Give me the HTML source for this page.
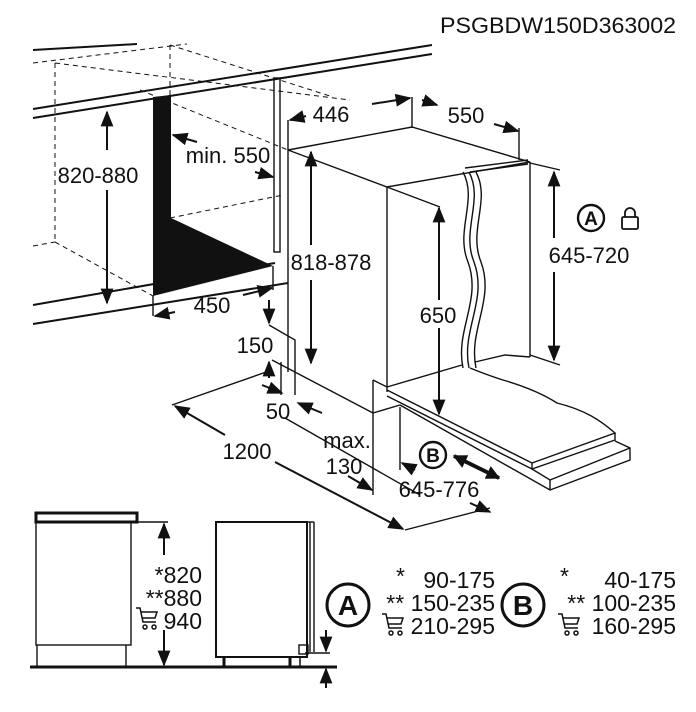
<!DOCTYPE html>
<html><head><meta charset="utf-8"><style>
html,body{margin:0;padding:0;background:#fff}
svg{display:block}
text{font-family:"Liberation Sans",sans-serif;fill:#111}
</style></head><body>
<svg width="696" height="712" viewBox="0 0 696 712" xmlns="http://www.w3.org/2000/svg">
<defs>
<marker id="a" viewBox="0 0 10 10" refX="9" refY="5" markerWidth="8" markerHeight="8" orient="auto-start-reverse"><path d="M0,1 L10,5 L0,9 z" fill="#111"/></marker>
<marker id="b" viewBox="0 0 10 10" refX="9" refY="5" markerWidth="14" markerHeight="14" markerUnits="userSpaceOnUse" orient="auto-start-reverse"><path d="M0,0 L10,5 L0,10 z" fill="#111"/></marker>
</defs>
<text x="676" y="33" font-size="22" text-anchor="end" textLength="236" lengthAdjust="spacingAndGlyphs">PSGBDW150D363002</text>
<g stroke="#111" fill="none" stroke-width="2">
<line x1="33" y1="50" x2="137" y2="44"/>
<line x1="33" y1="109" x2="432" y2="45"/>
<line x1="33" y1="118" x2="432" y2="54"/>
<line x1="33" y1="305" x2="275" y2="263"/>
<line x1="33" y1="324" x2="288" y2="283"/>
</g>
<g stroke="#111" fill="none" stroke-width="1" stroke-dasharray="5,4">
<line x1="33" y1="63" x2="187" y2="44"/>
<line x1="55" y1="63" x2="55" y2="243"/>
<line x1="170" y1="45" x2="170" y2="218"/>
<line x1="55" y1="63" x2="350" y2="100"/>
<line x1="170" y1="45" x2="333" y2="97"/>
<line x1="140" y1="90" x2="288" y2="150"/>
<line x1="170" y1="218" x2="283" y2="195"/>
<line x1="33" y1="246" x2="55" y2="242"/>
<line x1="55" y1="242" x2="153" y2="296"/>
</g>
<polygon points="153,97 171,95 171,218 273,266 153,296" fill="#111"/>
<g stroke="#111" fill="none" stroke-width="1.4">
<rect x="274" y="78" width="6" height="174"/>
<line x1="153" y1="296" x2="153" y2="316"/>
<line x1="273" y1="266" x2="273" y2="290"/>
<polyline points="288,150 412,127 530,162 387,187 288,150"/>
<line x1="288" y1="120" x2="288" y2="372"/>
<line x1="412" y1="97" x2="412" y2="128"/>
<line x1="519" y1="128" x2="519" y2="160"/>
<line x1="387" y1="187" x2="387" y2="392"/>
<line x1="530" y1="162" x2="530" y2="357"/>
<line x1="387" y1="187" x2="440" y2="207"/>
<line x1="530" y1="163" x2="560" y2="170"/>
<line x1="530" y1="355" x2="560" y2="365"/>
<polyline points="387,387 462,365"/>
<polyline points="475,362 505,355 530,357"/>
<line x1="465" y1="168" x2="528" y2="160"/>
<line x1="470" y1="172" x2="528" y2="164"/>
<path d="M463,172 C478,200 455,230 468,262 C482,300 455,330 463,368"/>
<path d="M469,172 C484,200 461,230 474,262 C488,300 461,330 469,368"/>
<path d="M476,172 C491,200 468,230 481,262 C495,300 468,330 476,368"/>
<path d="M387,390 L532,463 L615,433 C600,420 585,410 557,403 C540,392 520,385 503,380 C490,376 480,372 470,368"/>
<polyline points="387,396 532,469 615,440 615,433"/>
<line x1="532" y1="463" x2="532" y2="469"/>
<polyline points="400,405 550,490 630,460 630,448 615,441"/>
<polyline points="532,469 550,480 630,448"/>
<line x1="550" y1="480" x2="550" y2="490"/>
<polyline points="373,380 387,387"/>
<line x1="373" y1="380" x2="373" y2="495"/>
<polyline points="373,413 400,405"/>
<line x1="400" y1="407" x2="400" y2="470"/>
<line x1="272" y1="360" x2="373" y2="413"/>
<line x1="285" y1="418" x2="420" y2="495"/>
<polyline points="269,325 295,340 295,395"/>
<line x1="281" y1="362" x2="281" y2="395"/>
<line x1="172" y1="405" x2="272" y2="370"/>
<line x1="405" y1="530" x2="490" y2="508"/>
<g marker-end="url(#a)" stroke-width="2">
<line x1="107" y1="150" x2="107" y2="112"/>
<line x1="107" y1="190" x2="107" y2="303"/>
<line x1="197" y1="142" x2="173" y2="135"/>
<line x1="255" y1="172" x2="273" y2="177"/>
<line x1="175" y1="312" x2="155" y2="316"/>
<line x1="243" y1="295" x2="272" y2="288"/>
<line x1="306" y1="116" x2="290" y2="120"/>
<line x1="372" y1="104" x2="410" y2="98"/>
<line x1="422" y1="100" x2="437" y2="105"/>
<line x1="494" y1="124" x2="518" y2="131"/>
<line x1="311" y1="245" x2="311" y2="152"/>
<line x1="311" y1="280" x2="311" y2="363"/>
<line x1="439" y1="300" x2="439" y2="208"/>
<line x1="439" y1="328" x2="439" y2="414"/>
<line x1="554" y1="238" x2="554" y2="172"/>
<line x1="554" y1="272" x2="554" y2="360"/>
<line x1="269" y1="300" x2="269" y2="323"/>
<line x1="269" y1="378" x2="269" y2="362"/>
<line x1="262" y1="385" x2="282" y2="393"/>
<line x1="322" y1="413" x2="298" y2="403"/>
<line x1="225" y1="435" x2="175" y2="406"/>
<line x1="275" y1="462" x2="403" y2="529"/>
<line x1="348" y1="476" x2="372" y2="490"/>
<line x1="415" y1="470" x2="402" y2="463"/>
<line x1="470" y1="503" x2="490" y2="512"/>
</g>
<line x1="454" y1="456" x2="499" y2="478" stroke-width="4" marker-end="url(#b)" marker-start="url(#b)"/>
<circle cx="591" cy="218" r="13" stroke-width="2.4"/>
<circle cx="433" cy="455" r="13" stroke-width="2.4"/>
<rect x="622" y="217" width="16" height="12" rx="1.5" stroke-width="1.8"/>
<path d="M625,217 v-4 a5,5 0 0 1 10,0 v4" stroke-width="1.8"/>
</g>
<g font-size="22">
<text x="98" y="183" text-anchor="middle">820-880</text>
<text x="228" y="163" text-anchor="middle">min. 550</text>
<text x="212" y="313" text-anchor="middle">450</text>
<text x="331" y="122" text-anchor="middle">446</text>
<text x="466" y="123" text-anchor="middle">550</text>
<text x="331" y="270" text-anchor="middle">818-878</text>
<text x="438" y="323" text-anchor="middle">650</text>
<text x="589" y="263" text-anchor="middle">645-720</text>
<text x="255" y="353" text-anchor="middle">150</text>
<text x="278" y="419" text-anchor="middle">50</text>
<text x="247" y="459" text-anchor="middle">1200</text>
<text x="347" y="448" text-anchor="middle">max.</text>
<text x="344" y="474" text-anchor="middle">130</text>
<text x="439" y="497" text-anchor="middle">645-776</text>
</g>
<text x="591" y="225" font-size="19" font-weight="bold" text-anchor="middle">A</text>
<text x="433" y="462" font-size="19" font-weight="bold" text-anchor="middle">B</text>
<g stroke="#111" fill="none" stroke-width="1.4">
<rect x="36" y="513" width="101" height="9" stroke-width="3"/>
<rect x="36" y="522" width="95" height="123"/>
<line x1="37" y1="645" x2="37" y2="667"/>
<line x1="126" y1="645" x2="126" y2="667"/>
<line x1="30" y1="667" x2="337" y2="667" stroke-width="3"/>
<line x1="137" y1="522" x2="168" y2="522"/>
<line x1="164" y1="555" x2="164" y2="524" marker-end="url(#a)" stroke-width="2"/>
<line x1="164" y1="630" x2="164" y2="665" marker-end="url(#a)" stroke-width="2"/>
<rect x="216" y="522" width="91" height="135" stroke-width="2"/>
<line x1="307" y1="522" x2="314" y2="522"/>
<line x1="310" y1="522" x2="310" y2="652"/>
<line x1="314" y1="522" x2="314" y2="652"/>
<rect x="299" y="645" width="9" height="9"/>
<line x1="305" y1="653" x2="330" y2="653"/>
<line x1="224" y1="657" x2="224" y2="667" stroke-width="3"/>
<line x1="290" y1="657" x2="290" y2="667" stroke-width="3"/>
<line x1="300" y1="657" x2="300" y2="667" stroke-width="1.5"/>
<line x1="326" y1="630" x2="326" y2="651" marker-end="url(#a)" stroke-width="2"/>
<line x1="326" y1="688" x2="326" y2="669" marker-end="url(#a)" stroke-width="2"/>
<circle cx="348" cy="605" r="21" stroke-width="3"/>
<circle cx="523" cy="605" r="21" stroke-width="3"/>
</g>
<g font-size="23">
<text x="202" y="583" text-anchor="end">*820</text>
<text x="202" y="606" text-anchor="end">**880</text>
<text x="202" y="629" text-anchor="end">940</text>
<text x="396" y="584">*</text>
<text x="495" y="588" text-anchor="end">90-175</text>
<text x="495" y="611" text-anchor="end">**&#160;150-235</text>
<text x="495" y="634" text-anchor="end">210-295</text>
<text x="560" y="584">*</text>
<text x="676" y="588" text-anchor="end">40-175</text>
<text x="676" y="611" text-anchor="end">**&#160;100-235</text>
<text x="676" y="634" text-anchor="end">160-295</text>
</g>
<text x="348" y="615" font-size="28" font-weight="bold" text-anchor="middle">A</text>
<text x="523" y="615" font-size="28" font-weight="bold" text-anchor="middle">B</text>
<g stroke="#111" fill="none" stroke-width="1.5">
<path d="M136,608 l4,0 l3,14 h13 M141,612 h16 l-2,6 h-13"/>
<circle cx="145" cy="627" r="2"/><circle cx="154" cy="627" r="2"/>
<path d="M382,614 l4,0 l3,14 h13 M387,618 h16 l-2,6 h-13"/>
<circle cx="391" cy="633" r="2"/><circle cx="400" cy="633" r="2"/>
<path d="M558,614 l4,0 l3,14 h13 M563,618 h16 l-2,6 h-13"/>
<circle cx="567" cy="633" r="2"/><circle cx="576" cy="633" r="2"/>
</g>
</svg>
</body></html>
